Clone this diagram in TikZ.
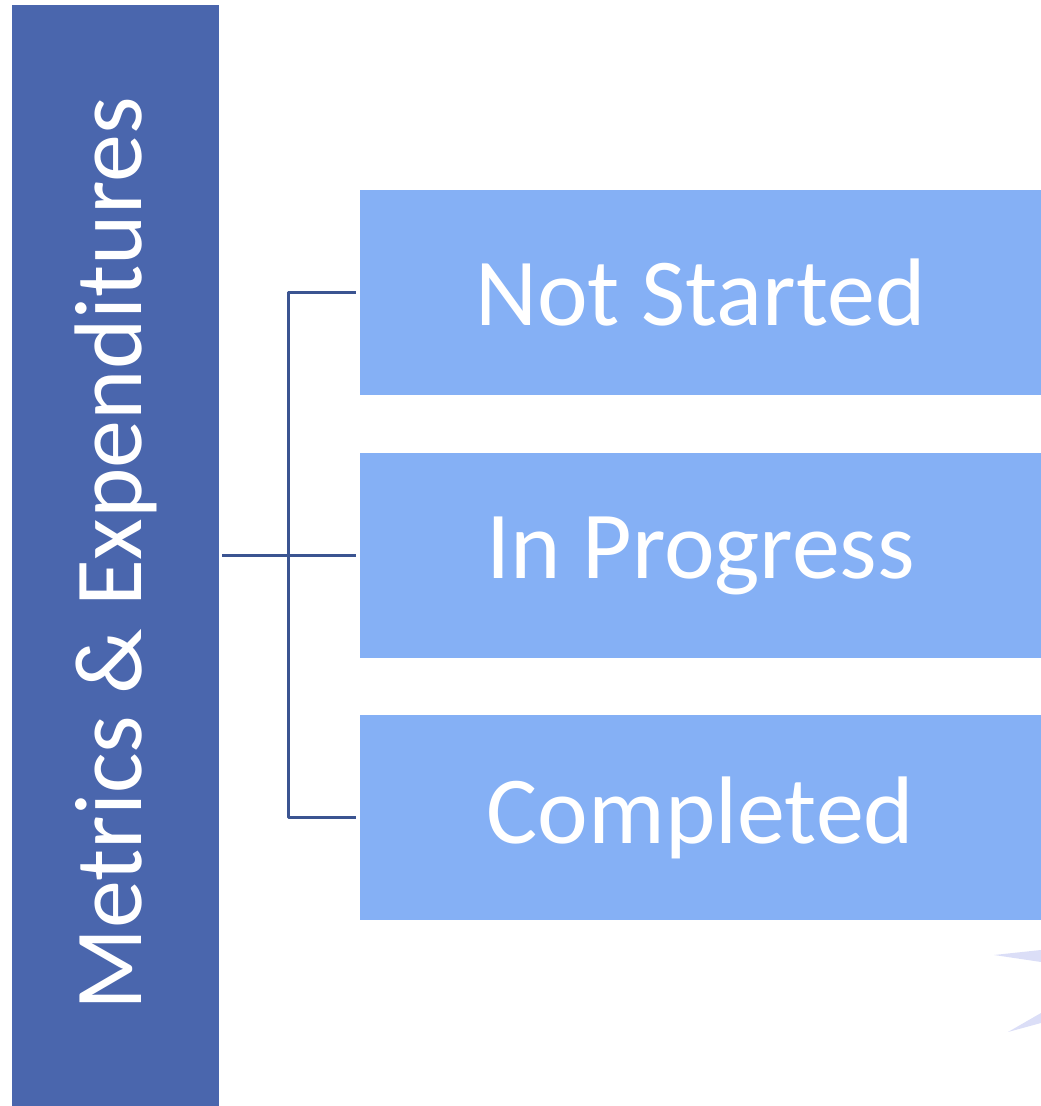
\documentclass[tikz,border=0pt]{standalone}
\usepackage{fontspec}
\setmainfont{Carlito}
\usepackage{tikz}
\usetikzlibrary{arrows,shapes}

\begin{document}
\begin{tikzpicture}[join=bevel,
  stagebox/.style={fill=c2,text=white,minimum width=681bp,minimum height=205bp,inner sep=0pt,font=\fontsize{96bp}{110bp}\selectfont},
  link/.style={draw=c3,line width=3bp}]
%%
\definecolor{c1}{rgb}{0.29,0.40,0.68}%
\definecolor{c2}{rgb}{0.52,0.69,0.96}%
\definecolor{c3}{rgb}{0.23,0.33,0.57}%
\definecolor{c4}{rgb}{0.86,0.87,0.97}%
%
\useasboundingbox (0bp,0bp) rectangle (1041bp,1106bp);
\begin{scope}
  \node (bar) at (115.5bp,550.5bp) [fill=c1,minimum width=207bp,minimum height=1101bp,inner sep=0pt] {};
  \node (title) at (115.5bp,552bp) [rotate=90,text=white,font=\fontsize{96bp}{110bp}\selectfont] {Metrics \& Expenditures};
\end{scope}
  \node (ns) at (700.5bp,813bp) [stagebox] {Not Started};
  \node (ip) at (700.5bp,550.5bp) [stagebox] {In Progress};
  \node (cp) at (700.5bp,288bp) [stagebox] {Completed};

  \path[link,shorten <=3bp,shorten >=4bp] (bar.east) -- (ip.west);
  \path[link,shorten <=4bp,shorten >=4bp] (ns.west) -- ++(-71bp,0) |- (cp.west);
%
  \fill[c4] (994bp,151bp) -- (1041bp,156bp) -- (1041bp,144bp) -- cycle;
  \fill[c4] (1008bp,74bp) -- (1041bp,93bp) -- (1041bp,83bp) -- cycle;
%
\end{tikzpicture}
\end{document}
